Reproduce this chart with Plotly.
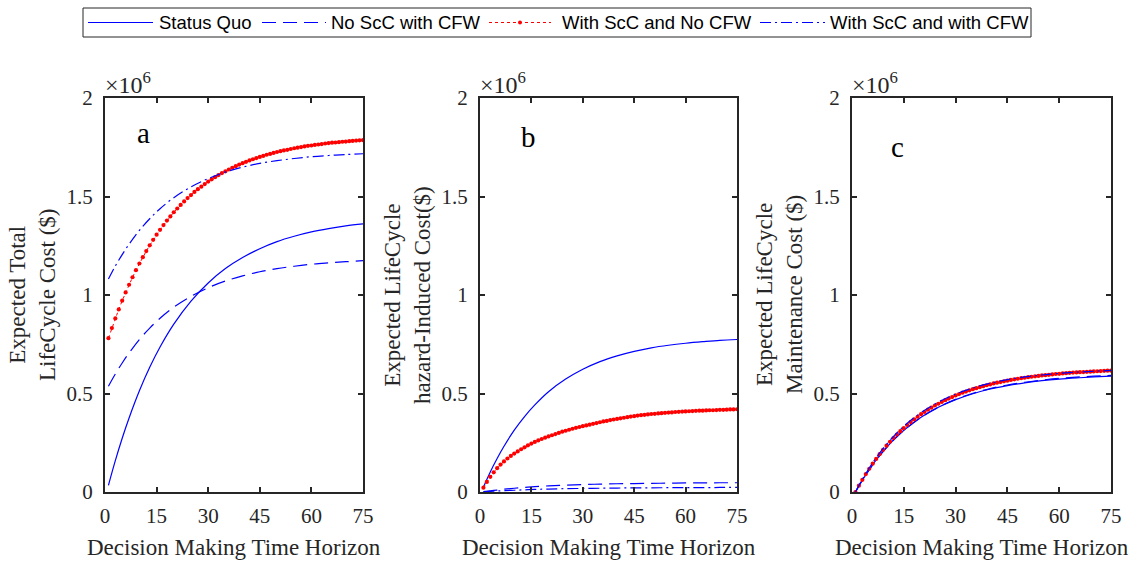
import plotly.graph_objects as go

W, H = 1140, 561

# ---------------- data (values in millions of $) ----------------
t_full = list(range(1, 76))
t_s = [1, 3, 5, 7, 10, 13, 16, 20, 25, 30, 35, 40, 45, 50, 55, 60, 65, 70, 75]
xticks = [0, 15, 30, 45, 60, 75]
yticks = [0, 0.5, 1, 1.5, 2]
ytick_text = ["0", "0.5", "1", "1.5", "2"]

series_names = ["Status Quo", "No ScC with CFW", "With ScC and No CFW", "With ScC and with CFW"]

# Panel a: total life-cycle cost
a_status = [0.034, 0.159, 0.273, 0.376, 0.514, 0.633, 0.736, 0.852, 0.969, 1.061,
            1.134, 1.190, 1.235, 1.271, 1.298, 1.320, 1.337, 1.351, 1.361]
a_noscc_cfw = [0.537, 0.599, 0.655, 0.706, 0.774, 0.832, 0.882, 0.938, 0.993, 1.037,
               1.071, 1.097, 1.118, 1.134, 1.146, 1.156, 1.163, 1.169, 1.174]
a_scc_nocfw = [0.781, 0.832, 0.881, 0.927, 0.971, 1.013, 1.052, 1.090, 1.126, 1.160,
               1.192, 1.223, 1.252, 1.280, 1.306, 1.331, 1.355, 1.378, 1.399, 1.420,
               1.439, 1.457, 1.475, 1.492, 1.507, 1.523, 1.537, 1.550, 1.563, 1.576,
               1.587, 1.598, 1.609, 1.619, 1.628, 1.637, 1.646, 1.654, 1.662, 1.669,
               1.676, 1.683, 1.689, 1.695, 1.701, 1.706, 1.712, 1.716, 1.721, 1.726,
               1.730, 1.734, 1.737, 1.741, 1.745, 1.748, 1.751, 1.754, 1.757, 1.759,
               1.762, 1.764, 1.766, 1.769, 1.771, 1.773, 1.774, 1.776, 1.778, 1.779,
               1.781, 1.782, 1.784, 1.785, 1.786]
a_scc_cfw = [1.081, 1.147, 1.205, 1.258, 1.328, 1.387, 1.438, 1.494, 1.549, 1.591,
             1.624, 1.649, 1.668, 1.682, 1.693, 1.702, 1.708, 1.713, 1.717]

# Panel b: hazard-induced cost
b_status = [0.025, 0.102, 0.170, 0.232, 0.314, 0.383, 0.442, 0.509, 0.573, 0.623,
            0.662, 0.691, 0.714, 0.732, 0.745, 0.755, 0.763, 0.770, 0.774]
b_noscc_cfw = [0.002, 0.006, 0.010, 0.014, 0.019, 0.023, 0.027, 0.031, 0.035, 0.038,
               0.040, 0.042, 0.043, 0.044, 0.045, 0.046, 0.046, 0.047, 0.047]
b_scc_nocfw = [0.022, 0.051, 0.077, 0.100, 0.121, 0.139, 0.155, 0.170, 0.183, 0.195,
               0.206, 0.217, 0.227, 0.237, 0.246, 0.254, 0.262, 0.269, 0.276, 0.282,
               0.288, 0.294, 0.300, 0.306, 0.311, 0.316, 0.321, 0.326, 0.330, 0.334,
               0.338, 0.342, 0.346, 0.350, 0.354, 0.358, 0.361, 0.365, 0.368, 0.371,
               0.374, 0.377, 0.380, 0.383, 0.385, 0.388, 0.390, 0.392, 0.394, 0.396,
               0.397, 0.399, 0.400, 0.402, 0.403, 0.404, 0.406, 0.407, 0.408, 0.409,
               0.410, 0.411, 0.412, 0.413, 0.413, 0.414, 0.415, 0.415, 0.416, 0.417,
               0.417, 0.418, 0.419, 0.419, 0.420]
b_scc_cfw = [0.001, 0.003, 0.005, 0.007, 0.009, 0.011, 0.013, 0.015, 0.017, 0.018,
             0.019, 0.020, 0.021, 0.021, 0.022, 0.022, 0.022, 0.023, 0.023]

# Panel c: maintenance cost
c_status = [0.000, 0.060, 0.114, 0.163, 0.226, 0.281, 0.327, 0.379, 0.430, 0.469,
            0.499, 0.523, 0.540, 0.554, 0.565, 0.573, 0.579, 0.584, 0.588]
c_noscc_cfw = [0.000, 0.060, 0.113, 0.162, 0.225, 0.280, 0.327, 0.379, 0.430, 0.470,
               0.501, 0.525, 0.543, 0.557, 0.568, 0.577, 0.583, 0.588, 0.592]
c_scc_nocfw = [0.000, 0.032, 0.062, 0.091, 0.118, 0.144, 0.168, 0.192, 0.214, 0.235,
               0.255, 0.274, 0.292, 0.309, 0.325, 0.340, 0.355, 0.369, 0.382, 0.395,
               0.406, 0.418, 0.428, 0.439, 0.448, 0.457, 0.466, 0.474, 0.482, 0.490,
               0.497, 0.504, 0.510, 0.516, 0.522, 0.527, 0.532, 0.537, 0.542, 0.546,
               0.551, 0.555, 0.558, 0.562, 0.565, 0.569, 0.572, 0.575, 0.578, 0.580,
               0.583, 0.585, 0.587, 0.589, 0.592, 0.593, 0.595, 0.597, 0.599, 0.600,
               0.602, 0.603, 0.605, 0.606, 0.607, 0.608, 0.609, 0.610, 0.611, 0.612,
               0.613, 0.614, 0.615, 0.616, 0.616]
c_scc_cfw = [0.000, 0.064, 0.122, 0.174, 0.242, 0.300, 0.349, 0.403, 0.456, 0.497,
             0.528, 0.552, 0.570, 0.584, 0.594, 0.602, 0.608, 0.613, 0.617]

panel_letters = ["a", "b", "c"]
ytitles = ["Expected Total<br>LifeCycle Cost ($)",
           "Expected LifeCycle<br>hazard-Induced Cost($)",
           "Expected LifeCycle<br>Maintenance Cost ($)"]
xtitle = "Decision Making Time Horizon"

# ---------------- styling ----------------
BLUE = "rgb(0,0,255)"
RED = "rgb(255,0,0)"
AX = "#262626"
SERIF = "Liberation Serif, Times New Roman, serif"
SANS = "Liberation Sans, Arial, sans-serif"
DASH = "14px,7px"
DASHDOT = "11px,4px,2px,4px"

# panel pixel boxes (left, right) ; shared top/bottom
px_x = [(105, 363), (480, 737), (852, 1111)]
px_top, px_bot = 98, 492


def fx(px):
    return px / W


def fy(py):
    return 1 - py / H


fig = go.Figure()

panels = [
    (a_status, a_noscc_cfw, a_scc_nocfw, a_scc_cfw),
    (b_status, b_noscc_cfw, b_scc_nocfw, b_scc_cfw),
    (c_status, c_noscc_cfw, c_scc_nocfw, c_scc_cfw),
]

for i, (s0, s1, s2, s3) in enumerate(panels):
    xa = "x" if i == 0 else f"x{i+1}"
    ya = "y" if i == 0 else f"y{i+1}"
    fig.add_trace(go.Scatter(x=t_s, y=s0, mode="lines", name=series_names[0],
                             line=dict(color=BLUE, width=1.2, shape="spline"),
                             xaxis=xa, yaxis=ya, showlegend=False))
    fig.add_trace(go.Scatter(x=t_s, y=s1, mode="lines", name=series_names[1],
                             line=dict(color=BLUE, width=1.2, dash=DASH, shape="spline"),
                             xaxis=xa, yaxis=ya, showlegend=False))
    fig.add_trace(go.Scatter(x=t_full, y=s2, mode="lines+markers", name=series_names[2],
                             line=dict(color=RED, width=1, dash="dot"),
                             marker=dict(color=RED, size=4.2),
                             xaxis=xa, yaxis=ya, showlegend=False))
    fig.add_trace(go.Scatter(x=t_s, y=s3, mode="lines", name=series_names[3],
                             line=dict(color=BLUE, width=1.2, dash=DASHDOT, shape="spline"),
                             xaxis=xa, yaxis=ya, showlegend=False))

axis_common = dict(showline=True, linecolor=AX, linewidth=2, mirror="allticks",
                   ticks="inside", ticklen=5, tickwidth=2, tickcolor=AX,
                   showgrid=False, zeroline=False, automargin=False,
                   tickfont=dict(family=SERIF, size=21, color=AX))

layout_axes = {}
for i in range(3):
    xk = "xaxis" if i == 0 else f"xaxis{i+1}"
    yk = "yaxis" if i == 0 else f"yaxis{i+1}"
    l, r = px_x[i]
    layout_axes[xk] = dict(axis_common, domain=[fx(l), fx(r)], range=[0, 75],
                           tickmode="array", tickvals=xticks,
                           anchor="y" if i == 0 else f"y{i+1}", ticklabelstandoff=4)
    layout_axes[yk] = dict(axis_common, domain=[fy(px_bot), fy(px_top)], range=[0, 2],
                           tickmode="array", tickvals=yticks, ticktext=ytick_text,
                           anchor="x" if i == 0 else f"x{i+1}", ticklabelstandoff=6)

fig.update_layout(template="none")
fig.update_layout(**layout_axes)

annotations = []
ytitle_x = [32, 407, 779]
letter_pos = [(143, 133), (528, 137), (897, 147)]
for i in range(3):
    l, r = px_x[i]
    annotations.append(dict(text=xtitle, xref="paper", yref="paper",
                            x=fx((l + r) / 2), y=fy(547), xanchor="center", yanchor="middle",
                            showarrow=False, font=dict(family=SERIF, size=23, color=AX)))
    annotations.append(dict(text=ytitles[i], xref="paper", yref="paper",
                            x=fx(ytitle_x[i]), y=fy((px_top + px_bot) / 2),
                            xanchor="center", yanchor="middle", textangle=-90,
                            showarrow=False, font=dict(family=SERIF, size=23, color=AX)))
    annotations.append(dict(text="×10<sup>6</sup>", xref="paper", yref="paper",
                            x=fx(l - 2), y=fy(px_top + 2), xanchor="left", yanchor="bottom",
                            showarrow=False, font=dict(family=SERIF, size=24, color=AX)))
    lx, ly = letter_pos[i]
    annotations.append(dict(text=panel_letters[i], xref="paper", yref="paper",
                            x=fx(lx), y=fy(ly), xanchor="center", yanchor="middle",
                            showarrow=False, font=dict(family=SERIF, size=29, color="black")))

# ---------------- manual legend ----------------
shapes = []
leg_y = 22.5
shapes.append(dict(type="rect", xref="paper", yref="paper",
                   x0=fx(83), x1=fx(1031), y0=fy(37), y1=fy(8),
                   line=dict(color=AX, width=1), fillcolor="white"))
leg_items = [
    (88, 153, 157, dict(color=BLUE, width=1.2), False),
    (262, 326, 329, dict(color=BLUE, width=1.2, dash=DASH), False),
    (489, 551, 560, dict(color=RED, width=1, dash="dot"), True),
    (760, 825, 828, dict(color=BLUE, width=1.2, dash=DASHDOT), False),
]
for (x0, x1, tx, ln, dot), name in zip(leg_items, series_names):
    shapes.append(dict(type="line", xref="paper", yref="paper",
                       x0=fx(x0), x1=fx(x1), y0=fy(leg_y), y1=fy(leg_y), line=ln))
    if dot:
        cx = (x0 + x1) / 2
        shapes.append(dict(type="circle", xref="paper", yref="paper",
                           x0=fx(cx - 2), x1=fx(cx + 2), y0=fy(leg_y + 2), y1=fy(leg_y - 2),
                           line=dict(color=RED, width=0), fillcolor=RED))
    annotations.append(dict(text=name, xref="paper", yref="paper",
                            x=fx(tx), y=fy(leg_y), xanchor="left", yanchor="middle",
                            showarrow=False, font=dict(family=SANS, size=18.5, color="black")))

fig.update_layout(width=W, height=H, margin=dict(l=0, r=0, t=0, b=0, pad=0),
                  paper_bgcolor="white", plot_bgcolor="white",
                  showlegend=False, annotations=annotations, shapes=shapes)

fig.write_html("out.html",
               post_script="document.body.style.margin='0';document.body.style.padding='0';")
